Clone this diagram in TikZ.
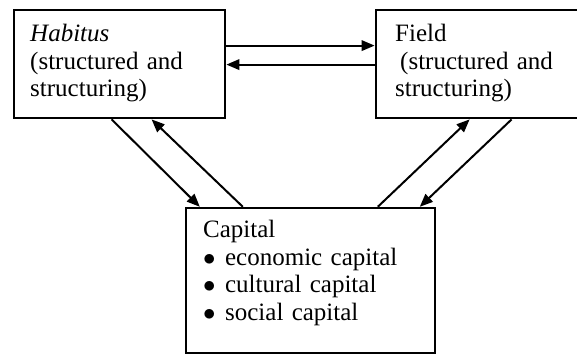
\documentclass[tikz,border=0pt]{standalone}
\usepackage{fontspec}
\setmainfont{Liberation Serif}
\usetikzlibrary{calc,arrows.meta}
\newcommand{\bitem}{$\bullet$\hspace{9.5pt}}
\begin{document}
\begin{tikzpicture}[x=1pt,y=1pt,
  box/.style={draw, line width=2.8pt, inner sep=0pt},
  boxthin/.style={draw, line width=2.4pt, inner sep=0pt},
  txt/.style={inner sep=0pt, text width=210pt, align=left,
    font=\fontsize{25}{27.5}\selectfont},
  conn/.style={line width=2pt, -{Triangle[length=13pt,width=10.5pt]}}]
\useasboundingbox (0,0) rectangle (577,355);
\clip (0,0) rectangle (577,355);
\fill[white] (0,0) rectangle (577,355);
% boxes
\node[box, minimum width=211pt, minimum height=108pt] (hab) at (119.5,291) {};
\node[box, minimum width=220pt, minimum height=108pt] (fld) at (486,291) {};
\node[boxthin, minimum width=249pt, minimum height=145pt] (cap) at (310.5,74.5) {};
% texts
\node[txt, anchor=base west] (habt) at (30,313)
  {\textit{Habitus}\\(structured and\\structuring)};
\node[txt, anchor=base west] (fldt) at (395,313)
  {Field\\\hspace*{5pt}(structured and\\structuring)};
\node[txt, anchor=base west] (capt) at (203,117)
  {Capital\\\bitem economic capital\\\bitem cultural capital\\\bitem social capital};
% horizontal connectors
\draw[conn] ($(hab.north east)+(0,-37)$) -- ($(fld.north west)+(0,-37)$);
\draw[conn] ($(fld.north west)+(0,-56)$) -- ($(hab.north east)+(0,-56)$);
% left diagonal connectors
\draw[conn] ($(hab.south west)+(99,0)$) -- ($(cap.north west)+(15,0)$);
\draw[conn] ($(cap.north west)+(58,0)$) -- ($(hab.south west)+(139,0)$);
% right diagonal connectors
\draw[conn] ($(cap.north west)+(193,0)$) -- ($(fld.south west)+(95,0)$);
\draw[conn] ($(fld.south west)+(137,0)$) -- ($(cap.north west)+(235,0)$);
\end{tikzpicture}
\end{document}
